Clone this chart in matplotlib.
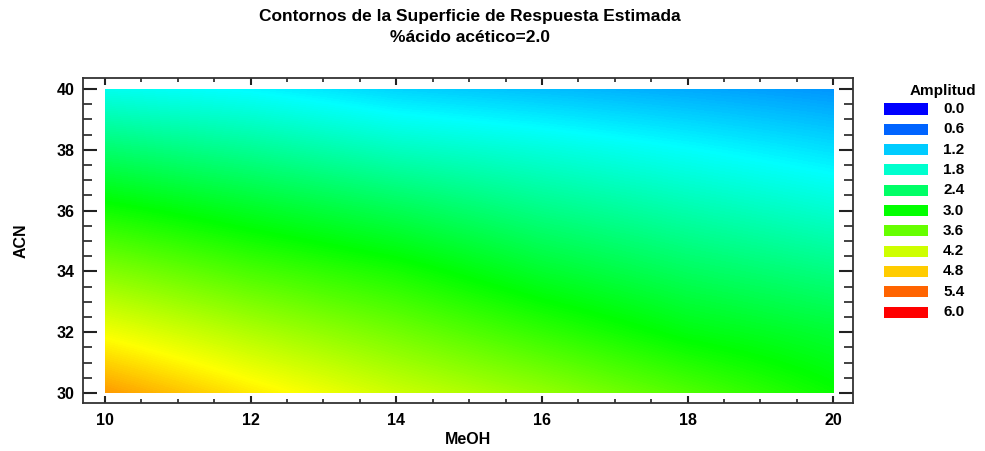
import numpy as np
import matplotlib
matplotlib.use("Agg")
import matplotlib.pyplot as plt
from matplotlib.colors import LinearSegmentedColormap, Normalize
from matplotlib.patches import Rectangle
from matplotlib.ticker import MultipleLocator

plt.rcParams['font.family'] = ['Liberation Sans', 'DejaVu Sans']
plt.rcParams['font.weight'] = 'bold'

# Estimated response (Amplitud) on a MeOH x ACN grid, %acido acetico = 2.0
meoh = [10, 12, 14, 16, 18, 20]
acn = [30, 32, 34, 36, 38, 40]
# rows follow acn, columns follow meoh
amplitud = [
    [5.10, 4.62, 4.20, 3.87, 3.47, 3.05],
    [4.43, 4.03, 3.67, 3.29, 2.92, 2.70],
    [3.77, 3.42, 3.13, 2.74, 2.45, 2.24],
    [3.10, 2.80, 2.52, 2.22, 1.99, 1.78],
    [2.36, 2.14, 1.88, 1.71, 1.52, 1.33],
    [1.60, 1.47, 1.25, 1.12, 1.00, 0.88],
]
levels = [0.0, 0.6, 1.2, 1.8, 2.4, 3.0, 3.6, 4.2, 4.8, 5.4, 6.0]

# spectrum from blue (low) to red (high)
cmap = LinearSegmentedColormap.from_list(
    "espectro", ["#0000ff", "#00ffff", "#00ff00", "#ffff00", "#ff0000"])
norm = Normalize(vmin=levels[0], vmax=levels[-1])

W, H = 985, 451
fig = plt.figure(figsize=(W / 100, H / 100), dpi=100)
ax = fig.add_axes([83 / W, 1 - 403 / H, 770 / W, 325 / H])

# grid values sit on pixel centres, the half-cell border is clipped away
dx = (meoh[1] - meoh[0]) / 2
dy = (acn[1] - acn[0]) / 2
img = ax.imshow(np.array(amplitud), origin="lower", cmap=cmap, norm=norm,
                extent=[meoh[0] - dx, meoh[-1] + dx, acn[0] - dy, acn[-1] + dy],
                interpolation="bilinear", interpolation_stage="data", aspect="auto")
clip = Rectangle((meoh[0], acn[0]), meoh[-1] - meoh[0], acn[-1] - acn[0],
                 transform=ax.transData, facecolor="none", edgecolor="none")
ax.add_patch(clip)
img.set_clip_path(clip)

ax.set_xlim(9.70, 20.27)
ax.set_ylim(29.67, 40.36)
ax.xaxis.set_major_locator(MultipleLocator(2))
ax.xaxis.set_minor_locator(MultipleLocator(0.5))
ax.yaxis.set_major_locator(MultipleLocator(2))
ax.yaxis.set_minor_locator(MultipleLocator(0.5))
ax.tick_params(axis="both", which="both", direction="in", top=True, right=True,
               labelsize=11.5, colors="#222222", labelcolor="black")
ax.tick_params(axis="y", which="major", length=10, width=1.5, pad=6)
ax.tick_params(axis="y", which="minor", length=6.5, width=1.2)
ax.tick_params(axis="x", which="major", length=5, width=1.5, pad=7)
ax.tick_params(axis="x", which="minor", length=3, width=1.2)
for lab in ax.get_xticklabels() + ax.get_yticklabels():
    lab.set_fontweight("bold")
for sp in ax.spines.values():
    sp.set_color("#333333")
    sp.set_linewidth(1.3)

ax.set_xlabel("MeOH", fontsize=11.5, fontweight="bold", labelpad=3)
ax.set_ylabel("ACN", fontsize=11.5, fontweight="bold", labelpad=20)

fig.text(470 / W, 1 - 17 / H, "Contornos de la Superficie de Respuesta Estimada",
         ha="center", va="center", fontsize=12.5, fontweight="bold")
fig.text(470 / W, 1 - 38 / H, "%ácido acético=2.0",
         ha="center", va="center", fontsize=12.5, fontweight="bold")

# legend of contour levels
fig.text(943 / W, 1 - 91 / H, "Amplitud", ha="center", va="center",
         fontsize=11, fontweight="bold")
for i, lev in enumerate(levels):
    yc = 109 + i * 20.3
    fig.patches.append(Rectangle((884 / W, 1 - (yc + 5.5) / H), 44 / W, 11 / H,
                                 transform=fig.transFigure, facecolor=cmap(norm(lev)),
                                 edgecolor="none"))
    fig.text(943 / W, 1 - yc / H, f"{lev:.1f}", ha="left", va="center",
             fontsize=11, fontweight="bold")

fig.savefig("out.png", dpi=100)
